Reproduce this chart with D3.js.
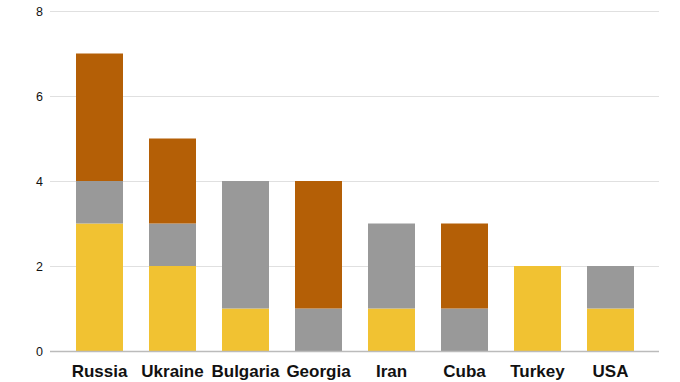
<!DOCTYPE html>
<html><head><meta charset="utf-8">
<script src="https://cdn.jsdelivr.net/npm/d3@7"></script>
<style>body{margin:0;background:#fff}</style>
</head><body>
<svg id="c" width="680" height="382"></svg>
<script>
const categories = ["Russia","Ukraine","Bulgaria","Georgia","Iran","Cuba","Turkey","USA"];
const seriesNames = ["s1","s2","s3"];
const s1 = [3,2,1,0,1,0,2,1];
const s2 = [1,1,3,1,2,1,0,1];
const s3 = [3,2,0,3,0,2,0,0];
const yTicks = [0,2,4,6,8];
const colors = ["#F1C232","#999999","#B45F06"];

const svg = d3.select("#c");
const x = d3.scaleBand().domain(categories).range([63,647]).paddingInner(26/73).paddingOuter(13/73);
const y = d3.scaleLinear().domain([0,8]).range([351,11]);

svg.append("g").selectAll("line").data(yTicks.filter(d=>d>0)).join("line")
  .attr("x1",50).attr("x2",659).attr("y1",d=>y(d)+0.5).attr("y2",d=>y(d)+0.5)
  .attr("stroke","#e0e0e0").attr("stroke-width",1);

svg.append("g").selectAll("text").data(yTicks).join("text")
  .attr("x",43).attr("y",d=>y(d)+4.5).attr("text-anchor","end")
  .attr("font-family","Liberation Sans, Arial, sans-serif").attr("font-size",12.5).attr("fill","#111")
  .text(d=>d);

const rows = categories.map((c,i)=>({cat:c,s1:s1[i],s2:s2[i],s3:s3[i]}));
const stack = d3.stack().keys(seriesNames)(rows);
svg.append("g").selectAll("g").data(stack).join("g").attr("fill",(d,i)=>colors[i])
  .selectAll("rect").data(d=>d.filter(p=>p[1]>p[0])).join("rect")
  .attr("x",d=>x(d.data.cat)).attr("width",x.bandwidth())
  .attr("y",d=>y(d[1])).attr("height",d=>y(d[0])-y(d[1]));

svg.append("line").attr("x1",50).attr("x2",659).attr("y1",351.5).attr("y2",351.5)
  .attr("stroke","#bbb").attr("stroke-width",1.5);

svg.append("g").selectAll("text").data(categories).join("text")
  .attr("x",d=>x(d)+x.bandwidth()/2).attr("y",377).attr("text-anchor","middle")
  .attr("font-family","Liberation Sans, Arial, sans-serif").attr("font-size",17).attr("font-weight","bold").attr("fill","#111")
  .text(d=>d);
</script>
</body></html>
